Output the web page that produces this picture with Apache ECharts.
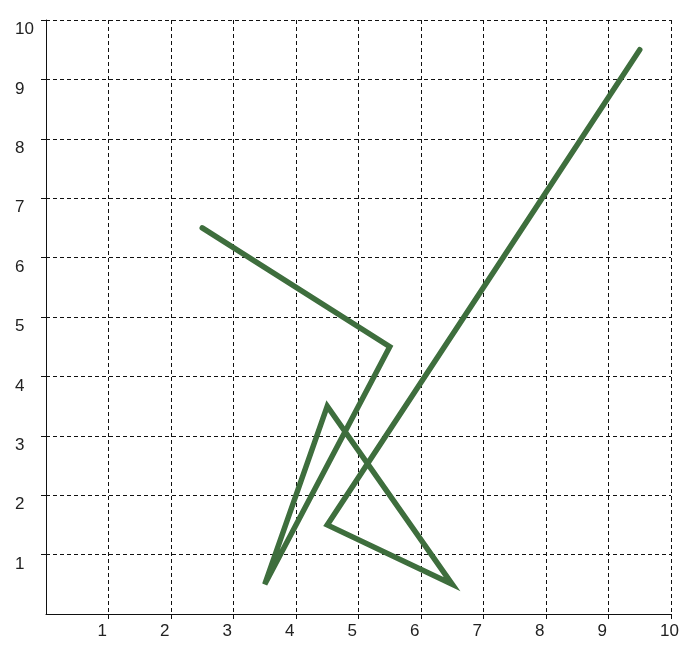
<!DOCTYPE html>
<head>
    <meta charset="utf-8">
    <title>ECharts</title>
</head>
<body style="margin:0;background:#fff">
<div id="main" style="width:695px;height:652px"></div>
<script src="https://cdn.jsdelivr.net/npm/echarts@6/dist/echarts.min.js"></script>
<script type="text/javascript">
// path points, in drawing order
var xValues = [2.5, 5.5, 3.5, 4.5, 6.5, 4.5, 9.5];
var yValues = [6.5, 4.5, 0.5, 3.5, 0.5, 1.5, 9.5];
var tickLabels = ['', '1', '2', '3', '4', '5', '6', '7', '8', '9', '10'];
var tickValues = [1, 2, 3, 4, 5, 6, 7, 8, 9, 10];

var points = [];
for (var i = 0; i < xValues.length; i++) {
    points.push([xValues[i], yValues[i]]);
}

var myChart = echarts.init(document.getElementById('main'));

var dashed = {show: true, lineStyle: {color: '#111', width: 1, type: [4, 3]}};
var labelFont = {fontFamily: 'Liberation Sans', fontSize: 17, color: '#222'};

var option = {
    animation: false,
    grid: {left: 46, right: 24, top: 20, bottom: 38},
    xAxis: {
        type: 'value', min: 0, max: 10, interval: 1,
        axisLine: {show: true, onZero: false, lineStyle: {color: '#111', width: 1}},
        axisTick: {show: true, length: 5, customValues: tickValues, lineStyle: {color: '#111'}},
        splitLine: dashed,
        axisLabel: {
            margin: 9,
            formatter: function (v) { return '{a|' + tickLabels[v] + '}'; },
            rich: {a: Object.assign({width: 22, align: 'left'}, labelFont)}
        }
    },
    yAxis: {
        type: 'value', min: 0, max: 10, interval: 1,
        axisLine: {show: true, onZero: false, lineStyle: {color: '#111', width: 1}},
        axisTick: {show: true, length: 5, customValues: tickValues, lineStyle: {color: '#111'}},
        splitLine: dashed,
        axisLabel: Object.assign({
            margin: 31, align: 'left', verticalAlign: 'top', padding: [1, 0, 0, 0],
            formatter: function (v) { return tickLabels[v]; }
        }, labelFont)
    },
    series: [{
        type: 'line',
        data: points,
        showSymbol: false,
        lineStyle: {color: '#3e6e3d', width: 5.5, cap: 'round', join: 'miter'}
    }]
};
myChart.setOption(option);
</script>
</body>
